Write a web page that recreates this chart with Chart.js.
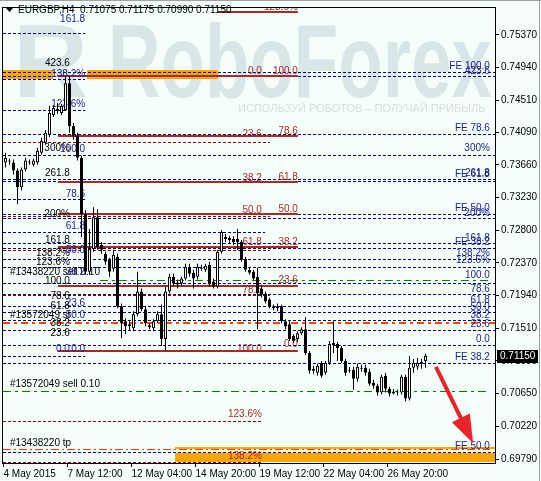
<!DOCTYPE html>
<html><head><meta charset="utf-8">
<script src="https://cdn.jsdelivr.net/npm/chart.js@4.4.1/dist/chart.umd.min.js"></script>
<style>html,body{margin:0;padding:0;background:#F5FFFA;}#wrap{width:541px;height:481px;position:relative;}</style>
</head><body><div id="wrap"><canvas id="c"></canvas></div>
<script>
const symbolTitle = "EURGBP,H4";
const openP  = [.73689,.73715,.73689,.73584,.73363,.73597,.73702,.73662,.73689,.73819,.73949,.74054,.74314,.74366,.74340,.74379,.74731,.74171,.74041,.73754,.73011,.72254,.72554,.72971,.72606,.72489,.72411,.72294,.72450,.71798,.71603,.71537,.71511,.71694,.71994,.71759,.71550,.71511,.71603,.71694,.71368,.71994,.72189,.72085,.72098,.72163,.72320,.72241,.72189,.72294,.72281,.72346,.72124,.72059,.72515,.72711,.72698,.72685,.72685,.72646,.72424,.72281,.72254,.72189,.72033,.71968,.71889,.71798,.71772,.71798,.71603,.71563,.71407,.71368,.71446,.71498,.71185,.70977,.70925,.71055,.70925,.71055,.71316,.71303,.71251,.71081,.70964,.70964,.70846,.70990,.70990,.70938,.70794,.70755,.70664,.70886,.70716,.70677,.70664,.70664,.70873,.70586,.70990,.71003,.71042,.71075];
const highP  = [.73819,.73741,.73728,.73610,.73623,.73754,.73728,.73741,.73884,.74014,.74119,.74432,.74445,.74471,.74458,.74823,.74823,.74210,.74080,.73780,.73063,.72815,.73102,.73076,.72646,.72515,.72437,.72541,.72489,.71837,.71642,.71603,.71733,.72254,.72033,.71798,.71577,.71629,.71733,.71824,.72059,.72228,.72228,.72150,.72189,.72359,.72359,.72281,.72359,.72346,.72359,.72385,.72163,.72541,.72802,.72750,.72724,.72724,.72815,.72672,.72450,.72320,.72281,.72307,.72085,.71994,.71915,.71824,.71837,.71824,.71629,.71603,.71433,.71472,.71524,.71655,.71211,.71016,.71042,.71081,.71081,.71342,.71603,.71329,.71277,.71107,.71003,.71003,.71042,.71029,.71029,.70977,.70833,.70781,.70899,.70925,.70742,.70716,.70703,.70899,.70899,.71146,.71107,.71120,.71107,.71175];
const lowP   = [.73623,.73662,.73532,.73141,.73323,.73571,.73662,.73636,.73662,.73793,.73923,.74027,.74288,.74327,.74314,.74366,.74080,.73988,.73715,.72711,.72215,.72215,.72515,.72541,.72489,.72346,.72189,.72254,.71772,.71381,.71433,.71485,.71472,.71668,.71733,.71537,.71498,.71472,.71577,.71277,.71211,.71968,.72059,.72033,.72072,.72137,.72189,.72033,.72150,.72267,.72254,.72059,.72033,.72033,.72489,.72646,.72632,.72606,.72541,.72385,.72254,.72215,.72137,.71498,.71915,.71837,.71772,.71746,.71733,.71577,.71498,.71342,.71316,.71329,.71420,.71159,.70912,.70912,.70886,.70859,.70899,.71029,.71185,.71081,.71055,.70886,.70925,.70703,.70807,.70938,.70886,.70755,.70716,.70625,.70638,.70664,.70612,.70638,.70625,.70638,.70547,.70560,.70925,.70964,.70977,.70990];
const closeP = [.73754,.73702,.73584,.73363,.73597,.73715,.73689,.73715,.73845,.73975,.74080,.74340,.74406,.74393,.74432,.74731,.74171,.74041,.73754,.73011,.72254,.72554,.72971,.72580,.72541,.72385,.72254,.72476,.71798,.71577,.71537,.71563,.71694,.71994,.71759,.71577,.71524,.71603,.71694,.71368,.71994,.72189,.72098,.72111,.72163,.72320,.72228,.72163,.72320,.72307,.72333,.72085,.72059,.72515,.72776,.72685,.72672,.72646,.72646,.72411,.72281,.72241,.72163,.71968,.71955,.71863,.71798,.71772,.71798,.71603,.71537,.71368,.71342,.71446,.71498,.71185,.70951,.70951,.71016,.70886,.71055,.71303,.71290,.71251,.71081,.70925,.70951,.70846,.71003,.70977,.70925,.70781,.70755,.70664,.70873,.70716,.70651,.70651,.70670,.70873,.70586,.70990,.71055,.71055,.71068,.71150];

const xTickBars   = [-0.5, 15.5, 31.5, 47.5, 63.5, 79.5, 95.5];
const xTickLabels = ["4 May 2015","7 May 12:00","12 May 04:00","14 May 20:00","19 May 12:00","22 May 04:00","26 May 20:00"];
const yTickValues = [0.75370,0.74940,0.74510,0.74090,0.73660,0.73230,0.72800,0.72370,0.71940,0.71510,0.71080,0.70650,0.70220,0.69790];

// horizontal objects: [price, fromBar, toBar]
const blueDashLevels = [
 [0.74875,-0.625,122.375],[0.74823,-0.625,122.375],[0.74066,-0.625,122.375],[0.73793,-0.625,122.375],
 [0.73467,-0.625,122.375],[0.73441,-0.625,122.375],[0.73014,-0.625,122.375],[0.72958,-0.625,122.375],
 [0.72632,-0.625,122.375],[0.72567,-0.625,122.375],[0.72424,-0.625,122.375],[0.72320,-0.625,122.375],
 [0.72111,-0.625,122.375],[0.71955,-0.625,122.375],[0.71798,-0.625,122.375],[0.71720,-0.625,122.375],
 [0.71616,-0.625,122.375],[0.71485,-0.625,122.375],[0.71290,-0.625,122.375],[0.71055,-0.625,122.375],
 [0.69882,-0.625,122.375],
 [0.75396,-0.625,19.9],[0.74784,-0.625,19.9],[0.74379,-0.625,19.9],[0.73206,-0.625,19.9],
 [0.72776,-0.625,64.9],[0.71146,-0.625,19.9]
];
const redDashLevels = [[0.73962,-0.625,66.1],[0.72985,-0.625,66.1],[0.72541,-0.625,66.1],[0.71942,-0.625,66.1],[0.70286,-0.625,64.1],[0.69752,-0.625,64.1]];
const redSolidLevels = [[0.75670,53.1,73.1],[0.74823,13.1,73.1],[0.74041,13.1,73.1],[0.73428,13.1,73.1],[0.73011,13.1,73.1],[0.72580,13.1,73.1],[0.72072,13.1,73.1],[0.71211,13.1,73.1]];
const greenOrderLevels = [[0.72150,23.6,121.1],[0.70690,-0.625,121.1]];
const stopLevels = [[0.71577,-0.625,122.375]];
const takeProfitLevels = [[0.69921,-0.625,121.1]];
// rectangles: [priceTop, priceBottom, fromBar, toBar]
const orangeBoxes = [[0.74901,0.74784,-0.625,11.9],[0.74901,0.74784,20.4,53.1],[0.69950,0.69921,42.4,122.375],[0.69876,0.69745,42.4,122.375]];

// texts: [text, anchorBar, price]
const blackLabels = [["423.6",16.1,0.74992],["300%",16.1,0.73871],["261.8",16.1,0.73545],["200%",16.1,0.73011],["161.8",16.1,0.72672],["138.2%",16.1,0.72502],["123.6%",16.1,0.72372],["100.0",16.1,0.72124],["78.6",16.1,0.71929],["61.8",16.1,0.71798],["38.2",16.1,0.71577],["23.6",16.1,0.71446]];
const orderLabels = [["#13438220 sell 0.10",1.1,0.72241],["#13572049 sl",1.1,0.71681],["#13572049 sell 0.10",1.1,0.70768],["#13438220 tp",1.1,0.70003]];
const blueLabels = [["161.8",19.9,0.75579],["138.2%",19.9,0.74849],["123.6%",19.9,0.74458],["100.0",19.9,0.73858],["78.6",19.9,0.73271],["61.8",19.9,0.72854],["50.0",19.9,0.72541],["38.2",19.9,0.72241],["23.6",19.9,0.71837],["50.0",19.9,0.71681],["0.0",19.9,0.71238],["0.0",16.1,0.71238],
 ["FE 100.0",121.1,0.74953],["423.6",121.1,0.74888],["FE 78.6",121.1,0.74145],["300%",121.1,0.73871],["FE 61.8",121.1,0.73532],["261.8",121.1,0.73545],["FE 50.0",121.1,0.73089],["200%",121.1,0.73024],["FE 38.2",121.1,0.72646],["161.8",121.1,0.72698],["138.2%",121.1,0.72502],["123.6%",121.1,0.72398],["100.0",121.1,0.72202],["78.6",121.1,0.72020],["61.8",121.1,0.71877],["50.0",121.1,0.71785],["38.2",121.1,0.71681],["23.6",121.1,0.71563],["0.0",121.1,0.71368],["FE 38.2",121.1,0.71133],["FE 50.0",121.1,0.69960]];
const redLabels = [["0.0",64.1,0.74888],["23.6",64.1,0.74066],["38.2",64.1,0.73480],["50.0",64.1,0.73063],["61.8",64.1,0.72646],["78.6",64.1,0.72007],["100.0",64.1,0.71238],["123.6%",64.1,0.70381],["138.2%",64.1,0.69830],
 ["100.0",73.1,0.74888],["78.6",73.1,0.74106],["61.8",73.1,0.73493],["50.0",73.1,0.73076],["38.2",73.1,0.72646],["23.6",73.1,0.72137],["0.0",73.1,0.71303],["123.6%",73.1,0.75735]];
const arrowPath = [[107.6,0.71003],[116.9,0.69999]];
const watermarkText = "RoboForex";
const watermarkSub = "ИСПОЛЬЗУЙ РОБОТОВ – ПОЛУЧАЙ ПРИБЫЛЬ";

const BG = '#F5FFFA';
const FONT = '"Liberation Sans", Arial, sans-serif';
const idx = openP.map((_, i) => i);
const last = idx.length - 1;

function hline(ch, ctx, lv, color, width, dash) {
  const y = Math.round(ch.scales.y.getPixelForValue(lv[0])) + (width % 2 ? 0.5 : 0);
  ctx.strokeStyle = color; ctx.lineWidth = width; ctx.setLineDash(dash);
  ctx.beginPath();
  ctx.moveTo(ch.scales.x.getPixelForValue(lv[1]), y);
  ctx.lineTo(ch.scales.x.getPixelForValue(lv[2]), y);
  ctx.stroke();
}
function texts(ch, ctx, arr, color, align) {
  ctx.fillStyle = color; ctx.textAlign = align; ctx.textBaseline = 'middle';
  ctx.font = '10px ' + FONT;
  arr.forEach(t => ctx.fillText(t[0], ch.scales.x.getPixelForValue(t[1]), ch.scales.y.getPixelForValue(t[2])));
}

const decor = {
  id: 'decor',
  beforeDraw(ch) {
    const {ctx, width, height, chartArea: a} = ch;
    ctx.save();
    ctx.fillStyle = BG; ctx.fillRect(0, 0, width, height);
    ctx.beginPath(); ctx.rect(a.left, a.top, a.right - a.left, a.bottom - a.top); ctx.clip();
    ctx.fillStyle = '#D9E6E8';
    ctx.font = 'bold 104px ' + FONT; ctx.textAlign = 'left'; ctx.textBaseline = 'alphabetic';
    ctx.fillText('R', 13, 97, 84);
    ctx.fillText(watermarkText, 108, 97, 384);
    ctx.fillStyle = '#D3DFE1'; ctx.font = '11px ' + FONT;
    ctx.fillText(watermarkSub, 238, 112, 254);
    ctx.restore();
  },
  beforeDatasetsDraw(ch) {
    const {ctx, chartArea: a} = ch;
    const X = v => ch.scales.x.getPixelForValue(v), Y = v => ch.scales.y.getPixelForValue(v);
    ctx.save();
    ctx.beginPath(); ctx.rect(a.left, a.top, a.right - a.left, a.bottom - a.top); ctx.clip();
    ctx.fillStyle = '#FFA500';
    orangeBoxes.forEach(b => { const y0 = Math.round(Y(b[0])), y1 = Math.round(Y(b[1])); ctx.fillRect(X(b[2]), y0, X(b[3]) - X(b[2]), Math.max(1, y1 - y0)); });
    redDashLevels.forEach(l => hline(ch, ctx, l, '#8B0000', 1, [3, 2]));
    blueDashLevels.forEach(l => hline(ch, ctx, l, '#000080', 1, [3, 2]));
    greenOrderLevels.forEach(l => hline(ch, ctx, l, '#008000', 1, [8, 4, 3, 4]));
    stopLevels.forEach(l => hline(ch, ctx, l, '#FF4500', 2, [7, 4, 3, 4]));
    takeProfitLevels.forEach(l => hline(ch, ctx, l, '#FF4500', 1, [8, 3, 2, 3]));
    redSolidLevels.forEach(l => hline(ch, ctx, l, '#A52A2A', 2, []));
    ctx.setLineDash([]);
    texts(ch, ctx, blackLabels, '#000000', 'right');
    texts(ch, ctx, orderLabels, '#000000', 'left');
    texts(ch, ctx, blueLabels, '#20208A', 'right');
    texts(ch, ctx, redLabels, '#A52A2A', 'right');
    ctx.restore();
  },
  afterDraw(ch) {
    const {ctx, chartArea: a, width, height} = ch;
    const X = v => ch.scales.x.getPixelForValue(v), Y = v => ch.scales.y.getPixelForValue(v);
    ctx.save();
    // arrow
    const sx = X(arrowPath[0][0]), sy = Y(arrowPath[0][1]), tx = X(arrowPath[1][0]), ty = Y(arrowPath[1][1]);
    const dx = tx - sx, dy = ty - sy, len = Math.hypot(dx, dy), ux = dx / len, uy = dy / len;
    const hl = 28, hw = 10, bx = tx - ux * hl, by = ty - uy * hl;
    ctx.strokeStyle = '#E8232A'; ctx.lineWidth = 4; ctx.lineCap = 'butt';
    ctx.beginPath(); ctx.moveTo(sx, sy); ctx.lineTo(bx + ux * 2, by + uy * 2); ctx.stroke();
    ctx.fillStyle = '#E8232A';
    ctx.beginPath(); ctx.moveTo(tx, ty); ctx.lineTo(bx - uy * hw, by + ux * hw); ctx.lineTo(bx + uy * hw, by - ux * hw); ctx.closePath(); ctx.fill();
    // frame
    ctx.strokeStyle = '#000'; ctx.lineWidth = 1;
    ctx.strokeRect(a.left - 0.5, a.top - 0.5, a.right - a.left + 1, a.bottom - a.top + 1);
    ctx.strokeStyle = '#A0A0A0';
    ctx.beginPath(); ctx.moveTo(0, 0.5); ctx.lineTo(width, 0.5); ctx.moveTo(width - 1.5, 0); ctx.lineTo(width - 1.5, height); ctx.stroke();
    // title
    ctx.fillStyle = '#000';
    ctx.beginPath(); ctx.moveTo(6, 8); ctx.lineTo(13, 8); ctx.lineTo(9.5, 12); ctx.closePath(); ctx.fill();
    ctx.font = '10px ' + FONT; ctx.textAlign = 'left'; ctx.textBaseline = 'middle';
    const f = v => v.toFixed(5);
    ctx.fillText(symbolTitle + '  ' + f(openP[last]) + ' ' + f(highP[last]) + ' ' + f(lowP[last]) + ' ' + f(closeP[last]), 18, 10.5);
    // current price box
    const py = Math.round(Y(closeP[last]));
    ctx.fillStyle = '#000'; ctx.fillRect(a.right + 2, py - 6, 41, 13);
    ctx.fillStyle = '#FFF'; ctx.fillText(f(closeP[last]), a.right + 5, py + 0.5);
    ctx.restore();
  }
};

new Chart(document.getElementById('c'), {
  type: 'bar',
  data: {
    datasets: [
      { data: idx.map(i => ({x: i, y: [openP[i], closeP[i]]})),
        backgroundColor: idx.map(i => closeP[i] >= openP[i] ? '#FFFFFF' : '#000000'),
        borderColor: '#000000', borderWidth: 1, borderSkipped: false, barThickness: 3,
        minBarLength: 1, grouped: false, inflateAmount: 0 },
      { data: idx.map(i => ({x: i, y: [lowP[i], highP[i]]})),
        backgroundColor: '#000000', borderWidth: 0, barThickness: 1, grouped: false, inflateAmount: 0 }
    ]
  },
  options: {
    responsive: true, maintainAspectRatio: false, animation: false,
    layout: {padding: {left: 3, top: 4, right: 0, bottom: 0}},
    plugins: {legend: {display: false}, tooltip: {enabled: false}},
    scales: {
      x: { type: 'linear', min: -0.625, max: 122.375, offset: false,
        afterBuildTicks: ax => { ax.ticks = xTickBars.map(v => ({value: v})); },
        afterFit: ax => { ax.height = 18; },
        ticks: { autoSkip: false, maxRotation: 0, align: 'start', padding: 1, color: '#000',
                 font: {family: FONT, size: 10}, callback: (v, i) => xTickLabels[i] },
        grid: { drawOnChartArea: false, drawTicks: true, tickLength: 4, color: '#000', offset: false },
        border: { display: false } },
      y: { position: 'right', min: 0.69738, max: 0.75722,
        afterBuildTicks: ax => { ax.ticks = yTickValues.map(v => ({value: v})); },
        afterFit: ax => { ax.width = 46; },
        ticks: { padding: 2, color: '#000', font: {family: FONT, size: 10}, callback: v => v.toFixed(5) },
        grid: { drawOnChartArea: false, drawTicks: true, tickLength: 4, color: '#000' },
        border: { display: false } }
    }
  },
  plugins: [decor]
});
</script></body></html>
